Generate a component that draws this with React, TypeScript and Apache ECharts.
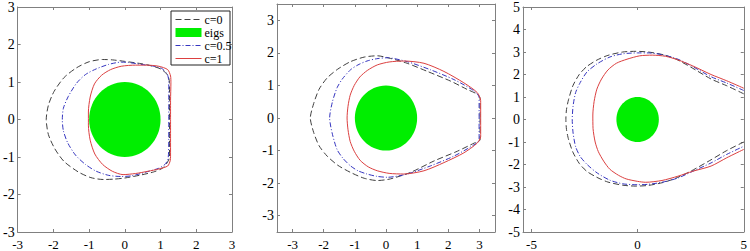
import React, { useEffect, useRef } from "react";
import * as echarts from "echarts";

// ---------- data ----------
type P = [number, number];

const seriesNames = ["c=0", "eigs", "c=0.5", "c=1"];

// Panel 1
const p1Ticks = [-3, -2, -1, 0, 1, 2, 3];
const p1C0: P[] = [[1.25,0],[1.25,0.5],[1.25,0.98],[1.2,1.18],[1.02,1.34],[0.75,1.43],[0.45,1.49],[0.0,1.55],[-0.35,1.59],[-0.63,1.6],[-1.0,1.54],[-1.35,1.38],[-1.7,1.12],[-1.98,0.75],[-2.14,0.38],[-2.2,0],[-2.14,-0.4],[-1.96,-0.78],[-1.7,-1.12],[-1.3,-1.4],[-0.95,-1.55],[-0.6,-1.6],[-0.3,-1.59],[0.0,-1.56],[0.45,-1.48],[0.8,-1.4],[1.05,-1.3],[1.18,-1.16],[1.25,-1.0],[1.25,-0.5],[1.25,0]];
const p1C05: P[] = [[1.23,0],[1.23,0.5],[1.23,1.0],[1.19,1.2],[1.02,1.37],[0.7,1.44],[0.45,1.47],[0.1,1.52],[-0.1,1.53],[-0.45,1.47],[-0.8,1.35],[-1.1,1.2],[-1.35,0.97],[-1.58,0.62],[-1.72,0.3],[-1.75,0],[-1.72,-0.3],[-1.6,-0.62],[-1.38,-0.95],[-1.1,-1.2],[-0.8,-1.38],[-0.45,-1.49],[-0.1,-1.52],[0.2,-1.5],[0.6,-1.4],[0.95,-1.3],[1.12,-1.2],[1.21,-1.05],[1.23,-0.5],[1.23,0]];
const p1C1: P[] = [[1.28,0],[1.28,0.5],[1.29,0.98],[1.28,1.16],[1.2,1.33],[0.95,1.42],[0.6,1.45],[0.3,1.45],[-0.1,1.42],[-0.4,1.33],[-0.65,1.18],[-0.85,0.95],[-0.97,0.6],[-1.02,0.2],[-1.02,-0.15],[-0.97,-0.55],[-0.84,-0.92],[-0.62,-1.2],[-0.35,-1.38],[-0.05,-1.47],[0.3,-1.44],[0.65,-1.38],[0.95,-1.32],[1.2,-1.24],[1.27,-1.1],[1.28,-0.98],[1.28,-0.5],[1.28,0]];

// Panel 2
const p2Ticks = [-3, -2, -1, 0, 1, 2, 3];
const p2C0: P[] = [[3.02,0],[3.02,0.6],[2.93,0.73],[2.6,0.88],[2.08,1.13],[1.33,1.43],[0.68,1.68],[0.14,1.83],[-0.28,1.91],[-0.7,1.87],[-1.14,1.73],[-1.55,1.5],[-1.89,1.23],[-2.15,0.88],[-2.32,0.45],[-2.43,0],[-2.32,-0.45],[-2.15,-0.85],[-1.89,-1.17],[-1.55,-1.45],[-1.14,-1.67],[-0.7,-1.85],[-0.28,-1.92],[0.14,-1.87],[0.79,-1.67],[1.54,-1.32],[2.29,-1.02],[2.83,-0.77],[3.02,-0.67],[3.02,0]];
const p2C05: P[] = [[2.99,0],[2.99,0.63],[2.83,0.83],[2.18,1.18],[1.43,1.48],[0.68,1.73],[0.04,1.85],[-0.3,1.82],[-0.61,1.75],[-0.9,1.63],[-1.14,1.48],[-1.4,1.2],[-1.57,0.93],[-1.72,0.5],[-1.81,0],[-1.72,-0.5],[-1.57,-0.97],[-1.38,-1.24],[-1.14,-1.47],[-0.9,-1.62],[-0.61,-1.72],[-0.3,-1.79],[0.04,-1.82],[0.68,-1.72],[1.43,-1.47],[2.18,-1.17],[2.83,-0.82],[2.99,-0.67],[2.99,0]];
const p2C1: P[] = [[3.04,0],[3.04,0.53],[2.93,0.78],[2.5,1.08],[1.86,1.43],[1.22,1.68],[0.57,1.75],[0.1,1.72],[-0.28,1.63],[-0.6,1.46],[-0.84,1.26],[-1.02,1.0],[-1.15,0.7],[-1.22,0.36],[-1.25,0],[-1.22,-0.36],[-1.15,-0.72],[-1.02,-1.02],[-0.83,-1.3],[-0.57,-1.5],[-0.28,-1.62],[0.1,-1.7],[0.57,-1.72],[1.22,-1.62],[1.86,-1.37],[2.5,-1.07],[2.93,-0.77],[3.04,-0.57],[3.04,0]];

// Panel 3
const p3XTicks = [-5, 0, 5];
const p3YTicks = [-5, -4, -3, -2, -1, 0, 1, 2, 3, 4, 5];
const p3C0: P[] = [[5,1.14],[4.2,1.5],[3.46,1.8],[2.5,2.33],[1.77,2.7],[1.2,2.88],[0.5,3.0],[-0.08,3.03],[-0.7,3.0],[-1.4,2.85],[-1.92,2.64],[-2.4,2.35],[-2.75,2.0],[-3.05,1.5],[-3.25,0.9],[-3.35,0.45],[-3.38,0],[-3.35,-0.45],[-3.25,-0.9],[-3.05,-1.45],[-2.75,-1.95],[-2.4,-2.3],[-1.92,-2.57],[-1.4,-2.78],[-0.7,-2.92],[-0.08,-2.96],[0.5,-2.93],[1.2,-2.8],[1.77,-2.62],[2.5,-2.3],[3.46,-1.79],[4.2,-1.38],[5,-1.0]];
const p3C05: P[] = [[5,1.29],[4.2,1.62],[3.46,1.9],[2.6,2.35],[1.9,2.68],[1.15,2.88],[0.5,2.96],[0.0,2.96],[-0.69,2.92],[-1.3,2.78],[-1.9,2.48],[-2.38,2.12],[-2.7,1.65],[-2.92,1.2],[-3.04,0.6],[-3.08,0],[-3.04,-0.6],[-2.92,-1.21],[-2.7,-1.65],[-2.38,-2.0],[-1.9,-2.38],[-1.3,-2.7],[-0.69,-2.86],[0.0,-2.9],[0.5,-2.88],[1.15,-2.79],[1.9,-2.6],[2.6,-2.3],[3.46,-1.93],[4.2,-1.55],[5,-1.19]];
const p3C1: P[] = [[5,1.39],[4.2,1.72],[3.46,2.0],[2.6,2.38],[1.9,2.65],[1.31,2.81],[0.69,2.86],[0.1,2.83],[-0.5,2.68],[-1.0,2.5],[-1.4,2.2],[-1.7,1.8],[-1.92,1.35],[-2.05,0.8],[-2.11,0.2],[-2.1,-0.4],[-2.0,-1.0],[-1.85,-1.43],[-1.6,-1.85],[-1.31,-2.21],[-0.9,-2.48],[-0.54,-2.64],[0.0,-2.75],[0.38,-2.79],[1.15,-2.71],[1.9,-2.52],[2.6,-2.3],[3.46,-2.07],[4.2,-1.7],[5,-1.33]];

// eigenvalue disk: [centerX, centerY, radius]
const eigsDisk: [number, number, number] = [0, 0, 1];

// ---------- styling ----------
const FONT = "Liberation Serif";
const AXIS_COLOR = "#808080";
const C0_COLOR = "#404040";
const C05_COLOR = "#3535c0";
const C1_COLOR = "#dc4040";
const EIG_COLOR = "#00ee00";
const DASH_C0 = [6, 3];
const DASH_C05 = [5, 2, 1, 2];

const panels = [
  { grid: { left: 14, top: 6, width: 218, height: 231 }, xr: [-3, 3], yr: [-3, 3], xt: p1Ticks, yt: p1Ticks, c0: p1C0, c05: p1C05, c1: p1C1 },
  { grid: { left: 277, top: 4, width: 218, height: 233 }, xr: [-3.5, 3.5], yr: [-3.5, 3.5], xt: p2Ticks, yt: p2Ticks, c0: p2C0, c05: p2C05, c1: p2C1 },
  { grid: { left: 523, top: 4, width: 223, height: 233 }, xr: [-5.4, 5], yr: [-5, 5], xt: p3XTicks, yt: p3YTicks, c0: p3C0, c05: p3C05, c1: p3C1 },
];

function axis(gridIndex: number, position: string, range: number[], ticks: number[], labels: boolean) {
  return {
    type: "value",
    gridIndex,
    position,
    min: range[0],
    max: range[1],
    axisLine: { show: true, onZero: false, lineStyle: { color: AXIS_COLOR, width: 1 } },
    axisTick: { show: true, inside: true, length: 3, customValues: ticks, lineStyle: { color: AXIS_COLOR } },
    axisLabel: {
      show: labels,
      customValues: ticks,
      margin: position === "bottom" ? 6 : 3,
      fontSize: position === "bottom" ? 13 : 14,
      fontFamily: FONT,
      color: "#000",
    },
    splitLine: { show: false },
  };
}

export default function App() {
  const ref = useRef<HTMLDivElement>(null);
  useEffect(() => {
    if (!ref.current) return;
    const chart = echarts.init(ref.current, undefined, { renderer: "svg" });
    const grids: any[] = [];
    const xAxes: any[] = [];
    const yAxes: any[] = [];
    const series: any[] = [];
    panels.forEach((p, g) => {
      grids.push({ ...p.grid, containLabel: false });
      xAxes.push(axis(g, "bottom", p.xr, p.xt, true));
      xAxes.push(axis(g, "top", p.xr, p.xt, false));
      yAxes.push(axis(g, "left", p.yr, p.yt, true));
      yAxes.push(axis(g, "right", p.yr, p.yt, false));
      const xi = 2 * g;
      const yi = 2 * g;
      series.push({
        name: "eigs",
        type: "custom",
        xAxisIndex: xi,
        yAxisIndex: yi,
        data: [eigsDisk],
        encode: { x: 0, y: 1 },
        itemStyle: { color: EIG_COLOR },
        renderItem: (_params: any, api: any) => {
          const c = api.coord([api.value(0), api.value(1)]);
          const s = api.size([api.value(2), api.value(2)]);
          return {
            type: "ellipse",
            shape: { cx: c[0], cy: c[1], rx: s[0], ry: s[1] },
            style: { fill: EIG_COLOR, stroke: null },
          };
        },
        z: 1,
      });
      const line = (name: string, data: P[], color: string, type: any) => ({
        name,
        type: "line",
        xAxisIndex: xi,
        yAxisIndex: yi,
        data,
        symbol: "none",
        smooth: 0.25,
        clip: true,
        itemStyle: { color },
        lineStyle: { color, width: 1, type },
        z: 2,
      });
      series.push(line("c=0", p.c0, C0_COLOR, DASH_C0));
      series.push(line("c=0.5", p.c05, C05_COLOR, DASH_C05));
      series.push(line("c=1", p.c1, C1_COLOR, "solid"));
    });

    chart.setOption({
      animation: false,
      grid: grids,
      xAxis: xAxes,
      yAxis: yAxes,
      series,
      graphic: [
        {
          type: "rect",
          z: 3,
          shape: { x: 171, y: 11, width: 59, height: 54 },
          style: { fill: "#fff", stroke: "#222", lineWidth: 1 },
        },
      ],
      legend: {
        orient: "vertical",
        left: 175,
        top: 13.5,
        padding: 0,
        itemWidth: 26,
        itemHeight: 9,
        itemGap: 1,
        z: 4,
        selectedMode: false,
        itemStyle: { opacity: 0 },
        lineStyle: { width: 1 },
        textStyle: { fontFamily: FONT, fontSize: 12, lineHeight: 12, color: "#000", padding: [0, 0, 0, -2] },
        data: [
          { name: seriesNames[0], lineStyle: { type: DASH_C0, width: 1, color: C0_COLOR } },
          { name: seriesNames[1], icon: "rect", itemStyle: { opacity: 1, color: EIG_COLOR } },
          { name: seriesNames[2], lineStyle: { type: DASH_C05, width: 1, color: C05_COLOR } },
          { name: seriesNames[3], lineStyle: { type: "solid", width: 1, color: C1_COLOR } },
        ],
      },
    });
    return () => chart.dispose();
  }, []);
  return (
    <div
      ref={ref}
      style={{ position: "absolute", left: 0, top: 0, width: 750, height: 251, background: "#fff" }}
    />
  );
}
